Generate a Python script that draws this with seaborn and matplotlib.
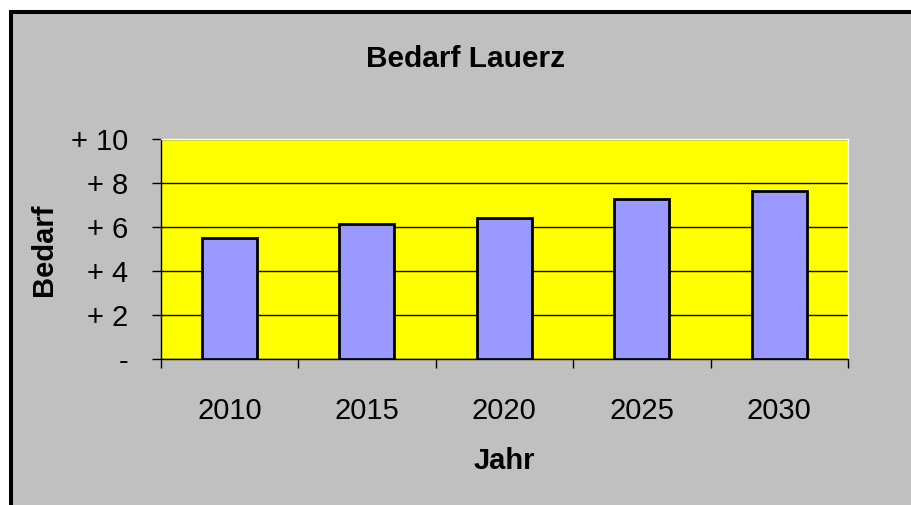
import matplotlib
matplotlib.use("Agg")
import matplotlib.pyplot as plt
import seaborn as sns
from matplotlib.patches import Rectangle
from matplotlib.ticker import FixedLocator

years = ["2010", "2015", "2020", "2025", "2030"]
bedarf = [5.5, 6.16, 6.44, 7.27, 7.66]
y_ticks = [0, 2, 4, 6, 8, 10]
y_labels = ["-", "+ 2", "+ 4", "+ 6", "+ 8", "+ 10"]

sns.set_style("white")
plt.rcParams['font.family'] = ['Liberation Sans', 'DejaVu Sans']
plt.rcParams['text.color'] = 'black'
plt.rcParams['axes.labelcolor'] = 'black'
plt.rcParams['xtick.color'] = 'black'
plt.rcParams['ytick.color'] = 'black'

W, H = 911, 505
fig = plt.figure(figsize=(W / 100, H / 100), dpi=100, facecolor="white")

# grey chart area with the black frame (cut off on the right and bottom)
frame = Rectangle((11 / W, -0.2), 1.2, 1 - 12 / H + 0.2, transform=fig.transFigure,
                  facecolor="#C0C0C0", edgecolor="black", linewidth=2.9, zorder=-1)
fig.add_artist(frame)

ax = fig.add_axes([160.7 / W, 1 - 359.3 / H, 687.3 / W, 220 / H])
ax.set_facecolor("#FFFF00")

sns.barplot(x=years, y=bedarf, color="#9999FF", saturation=1, width=0.4,
            edgecolor="black", linewidth=2, ax=ax, zorder=3)

ax.set_xlim(-0.5, 4.5)
ax.set_ylim(0, 10)
ax.set_yticks(y_ticks)
ax.set_yticklabels(y_labels)
ax.yaxis.grid(True, color="black", linewidth=1)
ax.set_axisbelow(True)

# category labels centred, tick marks between categories
ax.set_xticks(range(len(years)))
ax.set_xticklabels(years)
ax.xaxis.set_minor_locator(FixedLocator([i - 0.5 for i in range(len(years) + 1)]))
ax.tick_params(axis="x", which="major", length=0, pad=27, labelsize=21)
ax.tick_params(axis="x", which="minor", length=6.5, width=1, color="black", direction="out", bottom=True)
ax.tick_params(axis="y", length=6.5, width=1, color="black", direction="out", left=True,
               pad=17, labelsize=21)

for s in ["top", "right"]:
    ax.spines[s].set_color("white")
    ax.spines[s].set_linewidth(1)
for s in ["left", "bottom"]:
    ax.spines[s].set_color("black")
    ax.spines[s].set_linewidth(1)

ax.set_xlabel("Jahr", fontsize=21, fontweight="bold")
ax.set_ylabel("Bedarf", fontsize=21, fontweight="bold")
ax.xaxis.set_label_coords(0.5, -0.40)
ax.yaxis.set_label_coords(-0.15, 0.5)

fig.text(466 / W, 1 - 66.7 / H, "Bedarf Lauerz", ha="center", va="baseline",
         fontsize=21.5, fontweight="bold")

fig.savefig("out.png", dpi=100, facecolor=fig.get_facecolor())
